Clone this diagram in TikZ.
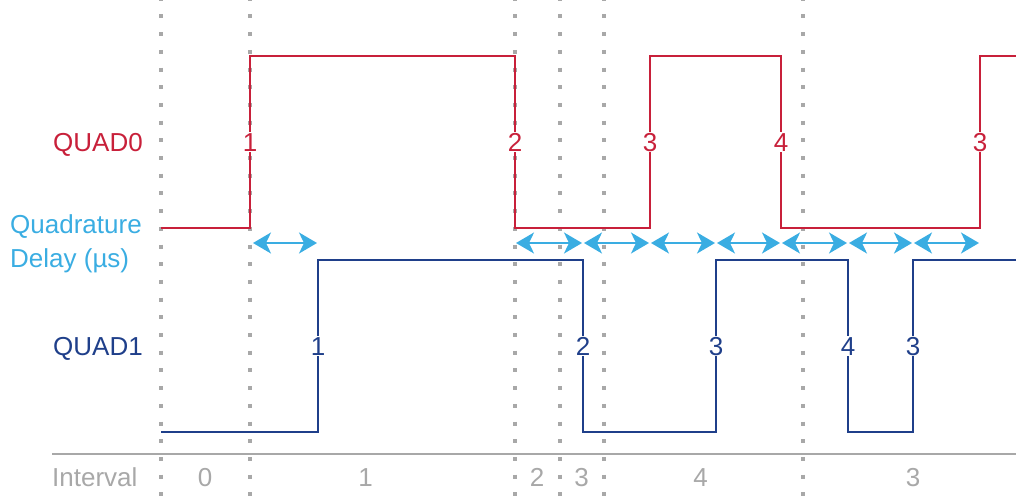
\documentclass[tikz,border=0pt]{standalone}
\usepackage{fontspec}
\setmainfont{Liberation Sans}
\usetikzlibrary{arrows.meta}
\definecolor{qred}{HTML}{C8203A}
\definecolor{qblue}{HTML}{1F3F8A}
\definecolor{qlight}{HTML}{3AADE2}
\definecolor{qgray}{HTML}{A8A8A8}
\tikzset{
  guide/.style={draw=qgray, line width=4pt, dash pattern=on 4pt off 13.7pt, dash phase=-14.4pt},
  wave0/.style={draw=qred, line width=2.2pt, line join=miter},
  wave1/.style={draw=qblue, line width=2.2pt, line join=miter},
  delay/.style={draw=qlight, line width=2pt, {Stealth[length=18pt,width=21pt,inset=5pt]}-{Stealth[length=18pt,width=21pt,inset=5pt]}, shorten <=1pt, shorten >=1pt},
  lbl/.style={font=\fontsize{26}{32}\selectfont, inner sep=1pt},
  edge0/.style={lbl, text=qred, fill=white, anchor=base},
  edge1/.style={lbl, text=qblue, fill=white, anchor=base},
  ivl/.style={lbl, text=qgray, anchor=base}
}
\begin{document}
\begin{tikzpicture}[x=1pt,y=-1pt]
\useasboundingbox (0,0) rectangle (1016,496);
% guide lines
\foreach \gx in {161,250,515,559.5,603.5,802.5}
  \draw[guide] (\gx,0) -- (\gx,496);
% axis
\coordinate (ax0) at (52,454);
\coordinate (ax1) at (1016,454);
\draw[qgray, line width=2pt] (ax0) -- (ax1);
% QUAD0 waveform
\draw[wave0] (161,228) -- (250,228) -- (250,56) -- (515,56) -- (515,228) -- (650,228) -- (650,56) -- (781,56) -- (781,228) -- (980,228) -- (980,56) -- (1016,56);
% QUAD1 waveform
\draw[wave1] (161,432) -- (318,432) -- (318,260) -- (583,260) -- (583,432) -- (716,432) -- (716,260) -- (848,260) -- (848,432) -- (913,432) -- (913,260) -- (1016,260);
% edge labels
\node[edge0] (r1) at (250,151) {1};
\node[edge0] (r2) at (515,151) {2};
\node[edge0] (r3) at (650,151) {3};
\node[edge0] (r4) at (781,151) {4};
\node[edge0] (r5) at (980,151) {3};
\node[edge1] (b1) at (318,355) {1};
\node[edge1] (b2) at (583,355) {2};
\node[edge1] (b3) at (716,355) {3};
\node[edge1] (b4) at (848,355) {4};
\node[edge1] (b5) at (913,355) {3};
% delay arrows
\foreach \n/\xa/\xb in {a/252/318, b/515/583, c/583/650, d/650/716, e/716/781, f/781/848, g/848/913, h/913/980}{
  \coordinate (\n s) at (\xa,243);
  \coordinate (\n e) at (\xb,243);
  \draw[delay] (\n s) -- (\n e);
}
% left labels
\node[lbl, text=qred, anchor=base east] (q0) at (144,151) {QUAD0};
\node[lbl, text=qlight, anchor=base west, align=left, font=\fontsize{26}{34}\selectfont] (qd) at (9,267) {Quadrature\\Delay (µs)};
\node[lbl, text=qblue, anchor=base east] (q1) at (144,355) {QUAD1};
% interval labels
\node[ivl, anchor=base west] (iv) at (51,486) {Interval};
\node[ivl] (i0) at (205,486) {0};
\node[ivl] (i1) at (365.5,486) {1};
\node[ivl] (i2) at (537,486) {2};
\node[ivl] (i3) at (581.5,486) {3};
\node[ivl] (i4) at (700.5,486) {4};
\node[ivl] (i5) at (913,486) {3};
\end{tikzpicture}
\end{document}
